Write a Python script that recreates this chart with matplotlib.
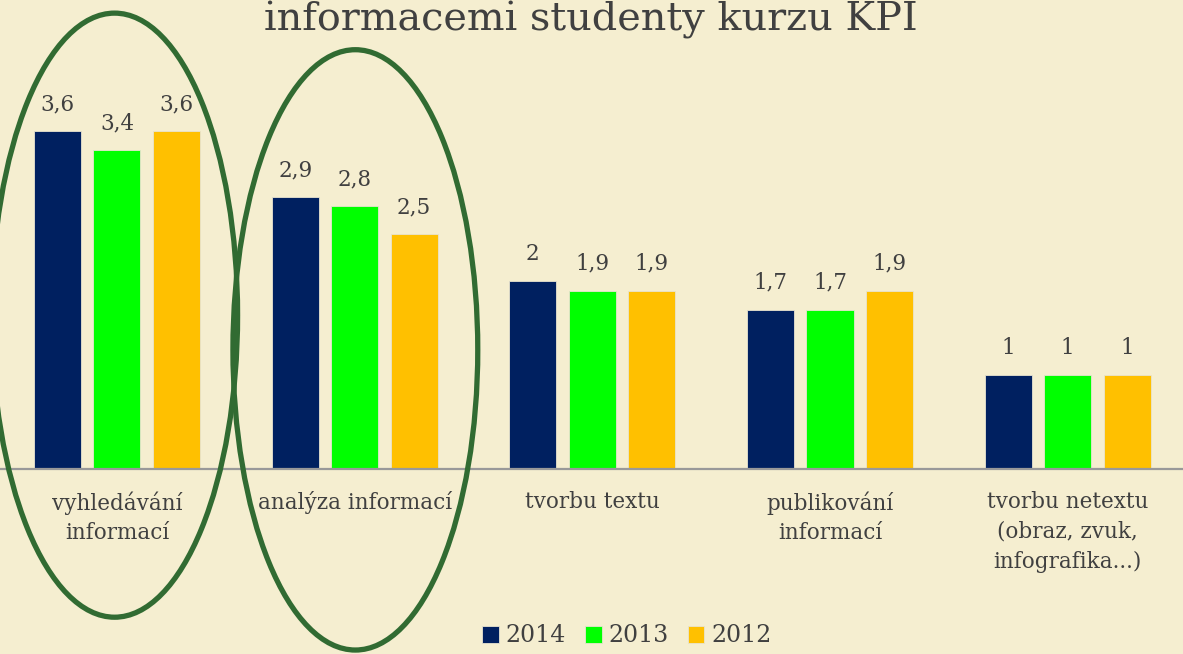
import matplotlib
matplotlib.use("Agg")
import matplotlib.pyplot as plt
from matplotlib.patches import Ellipse
import numpy as np

categories = ["vyhledávání\ninformací", "analýza informací", "tvorbu textu",
              "publikování\ninformací", "tvorbu netextu\n(obraz, zvuk,\ninfografika...)"]
series_names = ["2014", "2013", "2012"]
values_2014 = [3.6, 2.9, 2.0, 1.7, 1.0]
values_2013 = [3.4, 2.8, 1.9, 1.7, 1.0]
values_2012 = [3.6, 2.5, 1.9, 1.9, 1.0]
labels_2014 = ["3,6", "2,9", "2", "1,7", "1"]
labels_2013 = ["3,4", "2,8", "1,9", "1,7", "1"]
labels_2012 = ["3,6", "2,5", "1,9", "1,9", "1"]
colors = ["#002060", "#00FF00", "#FFC000"]
title = "informacemi studenty kurzu KPI"

bg = "#F5EED0"
txt = "#404040"
font = "DejaVu Serif"
plt.rcParams['font.family'] = [font]

W, H = 1183, 654
fig = plt.figure(figsize=(W / 100, H / 100), dpi=100, facecolor=bg)
ax = fig.add_axes([0, (H - 469) / H, 1, 469 / H])
ax.set_facecolor(bg)

x = np.arange(len(categories))
bw = 0.198
off = 0.25
series = [values_2014, values_2013, values_2012]
labels = [labels_2014, labels_2013, labels_2012]
handles = []
for i, (vals, labs, col, name) in enumerate(zip(series, labels, colors, series_names)):
    bars = ax.bar(x + (i - 1) * off, vals, width=bw, color=col, edgecolor="#E8E4D0",
                  linewidth=0.6, label=name, zorder=2)
    handles.append(bars)
    for xi, v, lab in zip(x + (i - 1) * off, vals, labs):
        ax.text(xi, v + 0.17, lab, ha="center", va="bottom", fontsize=15.5, color=txt,
                family=font)

ax.set_xlim(-0.492, 4.485)
ax.set_ylim(0, 5.0)
for s in ["top", "right", "left"]:
    ax.spines[s].set_visible(False)
ax.spines["bottom"].set_color("#999999")
ax.spines["bottom"].set_linewidth(1.6)
ax.set_yticks([])
ax.set_xticks(x)
ax.set_xticklabels(categories, fontsize=15.5, color=txt, linespacing=1.45)
ax.tick_params(axis="x", length=0, pad=16)

# highlight ellipses
green = "#316B32"
for cx, cy, w, h in [(-0.01, 1.64, 1.035, 6.44), (1.003, 1.27, 1.03, 6.40)]:
    e = Ellipse((cx, cy), w, h, fill=False, edgecolor=green, linewidth=3.8,
                clip_on=False, zorder=5)
    ax.add_patch(e)

fig.text(591 / W, 1 - 1 / H, title, ha="center", va="top", fontsize=28.6,
         color=txt, family=font)

leg = fig.legend(handles=handles, labels=series_names, loc="center",
                 bbox_to_anchor=(627 / W, 1 - 636 / H), ncol=3, frameon=False,
                 fontsize=17, handlelength=0.7, handleheight=0.7,
                 handletextpad=0.3, columnspacing=0.8, labelcolor=txt)

fig.savefig("out.png", dpi=100, facecolor=bg)
